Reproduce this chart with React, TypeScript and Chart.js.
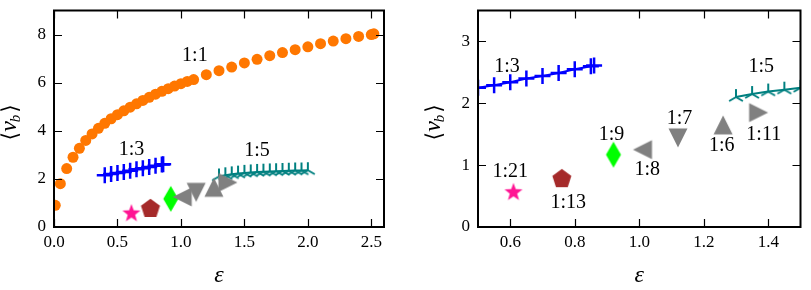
import React, { useEffect, useRef } from "react";
import { Chart, registerables } from "chart.js";
Chart.register(...registerables);

// ---- data ----
const X_11 = [0.01, 0.05, 0.10, 0.15, 0.20, 0.25, 0.30, 0.35, 0.40, 0.45, 0.50, 0.55, 0.60, 0.65, 0.70, 0.75, 0.80, 0.85, 0.90, 0.95, 1.00, 1.05, 1.10, 1.20, 1.30, 1.40, 1.50, 1.60, 1.70, 1.80, 1.90, 2.00, 2.10, 2.20, 2.30, 2.40, 2.50, 2.52];
const Y_11 = [0.90, 1.80, 2.43, 2.90, 3.27, 3.60, 3.87, 4.10, 4.31, 4.50, 4.67, 4.83, 4.98, 5.12, 5.26, 5.39, 5.52, 5.64, 5.75, 5.86, 5.96, 6.05, 6.13, 6.33, 6.50, 6.65, 6.82, 6.97, 7.12, 7.25, 7.37, 7.49, 7.62, 7.73, 7.83, 7.92, 8.00, 8.03];

const X_13 = [0.40, 0.45, 0.50, 0.55, 0.60, 0.65, 0.70, 0.75, 0.80, 0.85, 0.86];
const Y_13 = [2.15, 2.20, 2.25, 2.29, 2.34, 2.40, 2.44, 2.49, 2.55, 2.60, 2.61];

const X_15 = [1.30, 1.35, 1.40, 1.45, 1.50, 1.55, 1.60, 1.65, 1.70, 1.75, 1.80, 1.85, 1.90, 1.95, 2.00];
const Y_15 = [2.10, 2.15, 2.19, 2.22, 2.25, 2.27, 2.29, 2.30, 2.31, 2.32, 2.33, 2.34, 2.35, 2.35, 2.36];

const SINGLE_NAMES = ["1:21", "1:13", "1:9", "1:8", "1:7", "1:6", "1:11"];
const SINGLE_X = [0.61, 0.76, 0.92, 1.01, 1.12, 1.26, 1.37];
const SINGLE_Y = [0.56, 0.79, 1.17, 1.25, 1.44, 1.65, 1.85];

const LEFT_X_TICKS = [0, 0.5, 1.0, 1.5, 2.0, 2.5];
const LEFT_Y_TICKS = [0, 2, 4, 6, 8];
const RIGHT_X_TICKS = [0.6, 0.8, 1.0, 1.2, 1.4];
const RIGHT_Y_TICKS = [0, 1, 2, 3];

const LEFT_ANN_TEXT = ["1:1", "1:3", "1:5"];
const LEFT_ANN_X = [1.11, 0.61, 1.6];
const LEFT_ANN_Y = [7.15, 3.27, 3.2];

const RIGHT_ANN_TEXT = ["1:3", "1:5", "1:21", "1:13", "1:9", "1:8", "1:7", "1:6", "1:11"];
const RIGHT_ANN_X = [0.59, 1.378, 0.60, 0.78, 0.914, 1.025, 1.125, 1.256, 1.386];
const RIGHT_ANN_Y = [2.6, 2.6, 0.91, 0.416, 1.506, 0.935, 1.766, 1.325, 1.506];

// ---- marker canvases ----
function mk(size: number, draw: (c: CanvasRenderingContext2D) => void) {
  const cv = document.createElement("canvas");
  cv.width = size;
  cv.height = size;
  const c = cv.getContext("2d")!;
  c.translate(size / 2, size / 2);
  draw(c);
  return cv;
}
function poly(c: CanvasRenderingContext2D, pts: number[][], color: string) {
  c.beginPath();
  pts.forEach((p, i) => (i ? c.lineTo(p[0], p[1]) : c.moveTo(p[0], p[1])));
  c.closePath();
  c.fillStyle = color;
  c.fill();
}
function makeMarkers() {
  const star = mk(22, (c) => {
    const pts: number[][] = [];
    for (let i = 0; i < 10; i++) {
      const r = i % 2 === 0 ? 9.5 : 3.9;
      const a = -Math.PI / 2 + (i * Math.PI) / 5;
      pts.push([r * Math.cos(a), r * Math.sin(a)]);
    }
    poly(c, pts, "#ff1493");
  });
  const pent = mk(22, (c) => {
    const pts: number[][] = [];
    for (let i = 0; i < 5; i++) {
      const a = -Math.PI / 2 + (i * 2 * Math.PI) / 5;
      pts.push([10 * Math.cos(a), 10 * Math.sin(a) + 0.8]);
    }
    poly(c, pts, "#a52a2a");
  });
  const diam = mk(28, (c) => poly(c, [[0, -13], [7.5, 0], [0, 13], [-7.5, 0]], "#00ff00"));
  const h = 9.5;
  const gray = "#808080";
  const left = mk(22, (c) => poly(c, [[-h, 0], [h, -h], [h, h]], gray));
  const down = mk(22, (c) => poly(c, [[-h, -h], [h, -h], [0, h]], gray));
  const up = mk(22, (c) => poly(c, [[0, -h], [h, h], [-h, h]], gray));
  const right = mk(22, (c) => poly(c, [[h, 0], [-h, -h], [-h, h]], gray));
  const tri = mk(20, (c) => {
    c.strokeStyle = "#008080";
    c.lineWidth = 2;
    c.beginPath();
    c.moveTo(0, 0); c.lineTo(0, -8);
    c.moveTo(0, 0); c.lineTo(-6.9, 4);
    c.moveTo(0, 0); c.lineTo(6.9, 4);
    c.stroke();
  });
  return { singles: [star, pent, diam, left, down, up, right], tri };
}

function buildDatasets(m: any) {
  return [
    {
      label: "singles",
      data: SINGLE_X.map((x, i) => ({ x, y: SINGLE_Y[i] })),
      pointStyle: m.singles,
      pointRadius: 6,
      showLine: false,
      clip: 0,
    },
    {
      label: "1:3",
      data: X_13.map((x, i) => ({ x, y: Y_13[i] })),
      showLine: true,
      fill: false,
      tension: 0,
      borderColor: "#0000ff",
      borderWidth: 2,
      pointStyle: "cross",
      pointRadius: 8,
      pointBorderWidth: 2.5,
      pointBorderColor: "#0000ff",
      pointBackgroundColor: "#0000ff",
      clip: 0,
    },
    {
      label: "1:5",
      data: X_15.map((x, i) => ({ x, y: Y_15[i] })),
      showLine: true,
      fill: false,
      tension: 0,
      borderColor: "#008080",
      borderWidth: 2,
      pointStyle: m.tri,
      pointRadius: 6,
      clip: 0,
    },
    {
      label: "1:1",
      data: X_11.map((x, i) => ({ x, y: Y_11[i] })),
      showLine: false,
      pointStyle: "circle",
      pointRadius: 5.5,
      pointBorderWidth: 0,
      pointBackgroundColor: "#ff7700",
      pointBorderColor: "#ff7700",
      clip: 0,
    },
  ];
}

const SERIF = '"Liberation Serif", "DejaVu Serif", serif';

function overlay(texts: string[], xs: number[], ys: number[]) {
  return {
    id: "overlay",
    afterDraw(chart: any) {
      const { ctx, chartArea: a, scales } = chart;
      const sx = scales.x;
      const sy = scales.y;
      ctx.save();
      ctx.fillStyle = "#000";
      ctx.font = `20px ${SERIF}`;
      ctx.textAlign = "center";
      ctx.textBaseline = "middle";
      texts.forEach((t, i) => ctx.fillText(t, sx.getPixelForValue(xs[i]), sy.getPixelForValue(ys[i]) + 1));
      // inward ticks
      ctx.strokeStyle = "#000";
      ctx.lineWidth = 1.2;
      const L = 8;
      ctx.beginPath();
      sx.ticks.forEach((tk: any) => {
        const p = Math.round(sx.getPixelForValue(tk.value)) + 0.5;
        ctx.moveTo(p, a.bottom); ctx.lineTo(p, a.bottom - L);
        ctx.moveTo(p, a.top); ctx.lineTo(p, a.top + L);
      });
      sy.ticks.forEach((tk: any) => {
        const p = Math.round(sy.getPixelForValue(tk.value)) + 0.5;
        ctx.moveTo(a.left, p); ctx.lineTo(a.left + L, p);
        ctx.moveTo(a.right, p); ctx.lineTo(a.right - L, p);
      });
      ctx.stroke();
      // frame
      ctx.lineWidth = 2;
      ctx.strokeRect(a.left, a.top, a.right - a.left, a.bottom - a.top);
      // x title
      ctx.font = `italic 24px ${SERIF}`;
      ctx.textAlign = "center";
      ctx.textBaseline = "middle";
      ctx.fillText("ε", (a.left + a.right) / 2, a.bottom + 49);
      // y title <v_b>
      ctx.save();
      ctx.translate(a.left - 43, (a.top + a.bottom) / 2 + 3);
      ctx.rotate(-Math.PI / 2);
      ctx.textAlign = "left";
      ctx.textBaseline = "middle";
      const f1 = `22px ${SERIF}`;
      const fv = `italic 24px ${SERIF}`;
      const fb = `italic 15px ${SERIF}`;
      ctx.font = f1; const wl = ctx.measureText("⟨").width;
      ctx.font = fv; const wv = ctx.measureText("v").width;
      ctx.font = fb; const wb = ctx.measureText("b").width;
      ctx.font = f1; const wr = ctx.measureText("⟩").width;
      const total = wl + wv + wb + wr + 2;
      let x = -total / 2;
      ctx.font = f1; ctx.fillText("⟨", x, 0); x += wl;
      ctx.font = fv; ctx.fillText("v", x, -1); x += wv - 1;
      ctx.font = fb; ctx.fillText("b", x, 5); x += wb + 2;
      ctx.font = f1; ctx.fillText("⟩", x, 0);
      ctx.restore();
      ctx.restore();
    },
  };
}

function makeConfig(opts: {
  xmin: number; xmax: number; ymin: number; ymax: number;
  xticks: number[]; yticks: number[]; yw: number; padRight: number;
  xfmt: (v: number) => string; yfmt: (v: number) => string;
  ann: [string[], number[], number[]]; markers: any;
}): any {
  const tickFont = { family: SERIF, size: 17 };
  return {
    type: "scatter",
    data: { datasets: buildDatasets(opts.markers) },
    options: {
      animation: false,
      responsive: false,
      maintainAspectRatio: false,
      events: [],
      layout: { padding: { left: 0, right: opts.padRight, top: 3, bottom: 0 } },
      plugins: { legend: { display: false }, tooltip: { enabled: false } },
      scales: {
        x: {
          type: "linear",
          min: opts.xmin,
          max: opts.xmax,
          grid: { display: false, drawTicks: false },
          border: { display: false },
          ticks: { font: tickFont, color: "#000", padding: 5, maxRotation: 0, autoSkip: false, callback: (v: any) => opts.xfmt(Number(v)) },
          afterBuildTicks: (s: any) => { s.ticks = opts.xticks.map((v) => ({ value: v })); },
          afterFit: (s: any) => { s.height = 63; s.paddingLeft = 0; s.paddingRight = 0; },
        },
        y: {
          type: "linear",
          min: opts.ymin,
          max: opts.ymax,
          grid: { display: false, drawTicks: false },
          border: { display: false },
          ticks: { font: tickFont, color: "#000", padding: 8, autoSkip: false, callback: (v: any) => opts.yfmt(Number(v)) },
          afterBuildTicks: (s: any) => { s.ticks = opts.yticks.map((v) => ({ value: v })); },
          afterFit: (s: any) => { s.width = opts.yw; s.paddingTop = 0; s.paddingBottom = 0; },
        },
      },
    },
    plugins: [overlay(opts.ann[0], opts.ann[1], opts.ann[2])],
  };
}

export default function App() {
  const leftRef = useRef<HTMLCanvasElement>(null);
  const rightRef = useRef<HTMLCanvasElement>(null);
  useEffect(() => {
    const markers = makeMarkers();
    const c1 = new Chart(leftRef.current!, makeConfig({
      xmin: 0, xmax: 2.6, ymin: 0, ymax: 9,
      xticks: LEFT_X_TICKS, yticks: LEFT_Y_TICKS, yw: 54, padRight: 16,
      xfmt: (v) => v.toFixed(1), yfmt: (v) => String(Math.round(v)),
      ann: [LEFT_ANN_TEXT, LEFT_ANN_X, LEFT_ANN_Y], markers,
    }));
    const c2 = new Chart(rightRef.current!, makeConfig({
      xmin: 0.5, xmax: 1.5, ymin: 0, ymax: 3.5,
      xticks: RIGHT_X_TICKS, yticks: RIGHT_Y_TICKS, yw: 73, padRight: 2,
      xfmt: (v) => v.toFixed(1), yfmt: (v) => String(Math.round(v)),
      ann: [RIGHT_ANN_TEXT, RIGHT_ANN_X, RIGHT_ANN_Y], markers,
    }));
    return () => { c1.destroy(); c2.destroy(); };
  }, []);
  return (
    <div style={{ position: "absolute", left: 0, top: 0, width: 811, height: 290, background: "#fff", overflow: "hidden" }}>
      <canvas ref={leftRef} width={400} height={290} style={{ position: "absolute", left: 0, top: 0, width: 400, height: 290 }} />
      <canvas ref={rightRef} width={406} height={290} style={{ position: "absolute", left: 405, top: 0, width: 406, height: 290 }} />
    </div>
  );
}
